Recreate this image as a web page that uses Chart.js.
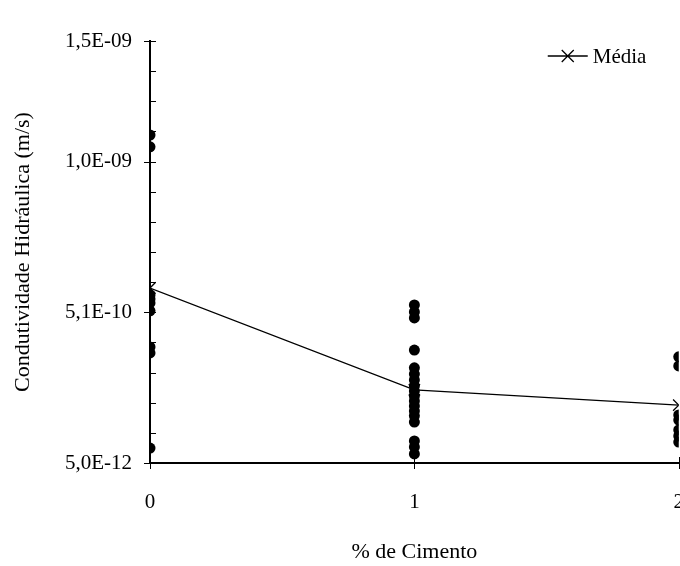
<!DOCTYPE html>
<html>
<head>
<meta charset="utf-8">
<script src="https://cdn.jsdelivr.net/npm/chart.js@4.4.1/dist/chart.umd.min.js"></script>
<style>
  html, body { margin: 0; padding: 0; background: #fff; overflow: hidden; }
  #wrap { width: 680px; height: 566px; overflow: hidden; }
  canvas { display: block; }
</style>
</head>
<body>
<div id="wrap"><canvas id="myChart" width="705" height="566"></canvas></div>
<script>
// Data
const cimento = [0, 1, 2];
const k0 = [1.167e-9, 1.125e-9, 6.00e-10, 5.86e-10, 5.72e-10, 5.44e-10, 4.16e-10, 3.95e-10, 5.8e-11];
const k1 = [5.65e-10, 5.40e-10, 5.19e-10, 4.05e-10, 3.42e-10, 3.20e-10, 2.99e-10, 2.78e-10, 2.60e-10,
            2.42e-10, 2.25e-10, 2.07e-10, 1.89e-10, 1.72e-10, 1.50e-10, 8.3e-11, 6.2e-11, 3.7e-11];
const k2 = [3.81e-10, 3.49e-10, 1.75e-10, 1.57e-10, 1.22e-10, 1.01e-10, 7.9e-11];
const kMedia = [6.25e-10, 2.64e-10, 2.10e-10];
const yTickLabels = ['5,0E-12', '5,1E-10', '1,0E-09', '1,5E-09'];
const yTickIndex = [0, 5, 10, 14];
const yMin = 5e-12;
const yMax = 1.5e-9;
const yDivisions = 14;

const FONT = "'Liberation Serif', 'Times New Roman', serif";

// points for each cement content
let pontos = [];
[k0, k1, k2].forEach((vals, i) => {
    vals.forEach(v => pontos.push({ x: cimento[i], y: v }));
});
let media = kMedia.map((v, i) => ({ x: cimento[i], y: v }));

// tick marks like the original (majors cross the axis, minors inside)
const axisTicks = {
    id: 'axisTicks',
    afterDatasetsDraw(chart) {
        const ctx = chart.ctx;
        const ys = chart.scales.y, xs = chart.scales.x;
        ctx.save();
        ctx.strokeStyle = '#000';
        ctx.lineWidth = 1;
        ctx.beginPath();
        ys.ticks.forEach((t, i) => {
            const py = Math.round(ys.getPixelForValue(t.value)) + 0.5;
            const major = yTickIndex.includes(i);
            ctx.moveTo(xs.left - (major ? 6 : 0), py);
            ctx.lineTo(xs.left + 6, py);
        });
        cimento.forEach(c => {
            const px = Math.round(xs.getPixelForValue(c)) + 0.5;
            ctx.moveTo(px, ys.bottom - 6);
            ctx.lineTo(px, ys.bottom + 6);
        });
        ctx.stroke();
        ctx.restore();
    }
};

// legend inside the plot, top right: line with an X, then the label
const mediaLegend = {
    id: 'mediaLegend',
    afterDraw(chart) {
        const ctx = chart.ctx;
        const area = chart.chartArea;
        const ds = chart.data.datasets[0];
        const lx = area.right - 131, ly = area.top + 15;
        ctx.save();
        ctx.strokeStyle = '#000';
        ctx.lineWidth = 1.3;
        ctx.beginPath();
        ctx.moveTo(lx, ly); ctx.lineTo(lx + 40, ly);
        ctx.moveTo(lx + 14, ly - 6); ctx.lineTo(lx + 26, ly + 6);
        ctx.moveTo(lx + 26, ly - 6); ctx.lineTo(lx + 14, ly + 6);
        ctx.stroke();
        ctx.fillStyle = '#000';
        ctx.font = '21px ' + FONT;
        ctx.textBaseline = 'middle';
        ctx.fillText(ds.label, lx + 45, ly + 1);
        ctx.restore();
    }
};

const ctx = document.getElementById('myChart').getContext('2d');
const myChart = new Chart(ctx, {
    type: 'scatter',
    data: {
        datasets: [{
            label: 'Média',
            data: media,
            showLine: true,
            borderColor: '#000',
            borderWidth: 1.3,
            pointStyle: 'crossRot',
            pointRadius: 8,
            pointBorderWidth: 1.3,
            pointBorderColor: '#000',
            pointBackgroundColor: '#000'
        }, {
            label: 'Pontos',
            data: pontos,
            showLine: false,
            pointStyle: 'circle',
            pointRadius: 5.5,
            pointBorderWidth: 0,
            backgroundColor: '#000',
            borderColor: '#000'
        }]
    },
    options: {
        responsive: false,
        animation: false,
        layout: { padding: { top: 41, right: 22, bottom: 0, left: 0 } },
        plugins: {
            tooltip: { enabled: false },
            legend: { display: false }
        },
        scales: {
            x: {
                type: 'linear',
                min: 0,
                max: 2,
                afterBuildTicks: scale => {
                    scale.ticks = cimento.map(v => ({ value: v }));
                },
                afterFit: scale => { scale.height = 566 - 463; },
                grid: { display: true, drawOnChartArea: false, drawTicks: true, tickLength: 6, color: 'rgba(0,0,0,0)' },
                border: { display: true, color: '#000', width: 2 },
                ticks: {
                    font: { family: FONT, size: 21 },
                    color: '#000',
                    padding: 21,
                    maxRotation: 0,
                    callback: v => String(v)
                },
                title: {
                    display: true,
                    text: '% de Cimento',
                    font: { family: FONT, size: 22 },
                    color: '#000',
                    padding: { top: 1, bottom: 1 }
                }
            },
            y: {
                type: 'linear',
                min: yMin,
                max: yMax,
                afterBuildTicks: scale => {
                    let t = [];
                    for (let i = 0; i <= yDivisions; i++) {
                        t.push({ value: yMin + i * (yMax - yMin) / yDivisions });
                    }
                    scale.ticks = t;
                },
                afterFit: scale => { scale.width = 150; },
                grid: { display: true, drawOnChartArea: false, drawTicks: true, tickLength: 6, color: 'rgba(0,0,0,0)' },
                border: { display: true, color: '#000', width: 2 },
                ticks: {
                    font: { family: FONT, size: 21 },
                    color: '#000',
                    padding: 12,
                    autoSkip: false,
                    callback: (v, i) => {
                        const j = yTickIndex.indexOf(i);
                        return j >= 0 ? yTickLabels[j] : '';
                    }
                },
                title: {
                    display: true,
                    text: 'Condutividade Hidráulica (m/s)',
                    font: { family: FONT, size: 22 },
                    color: '#000',
                    padding: { top: 10, bottom: 10 }
                }
            }
        }
    },
    plugins: [axisTicks, mediaLegend]
});
</script>
</body>
</html>
